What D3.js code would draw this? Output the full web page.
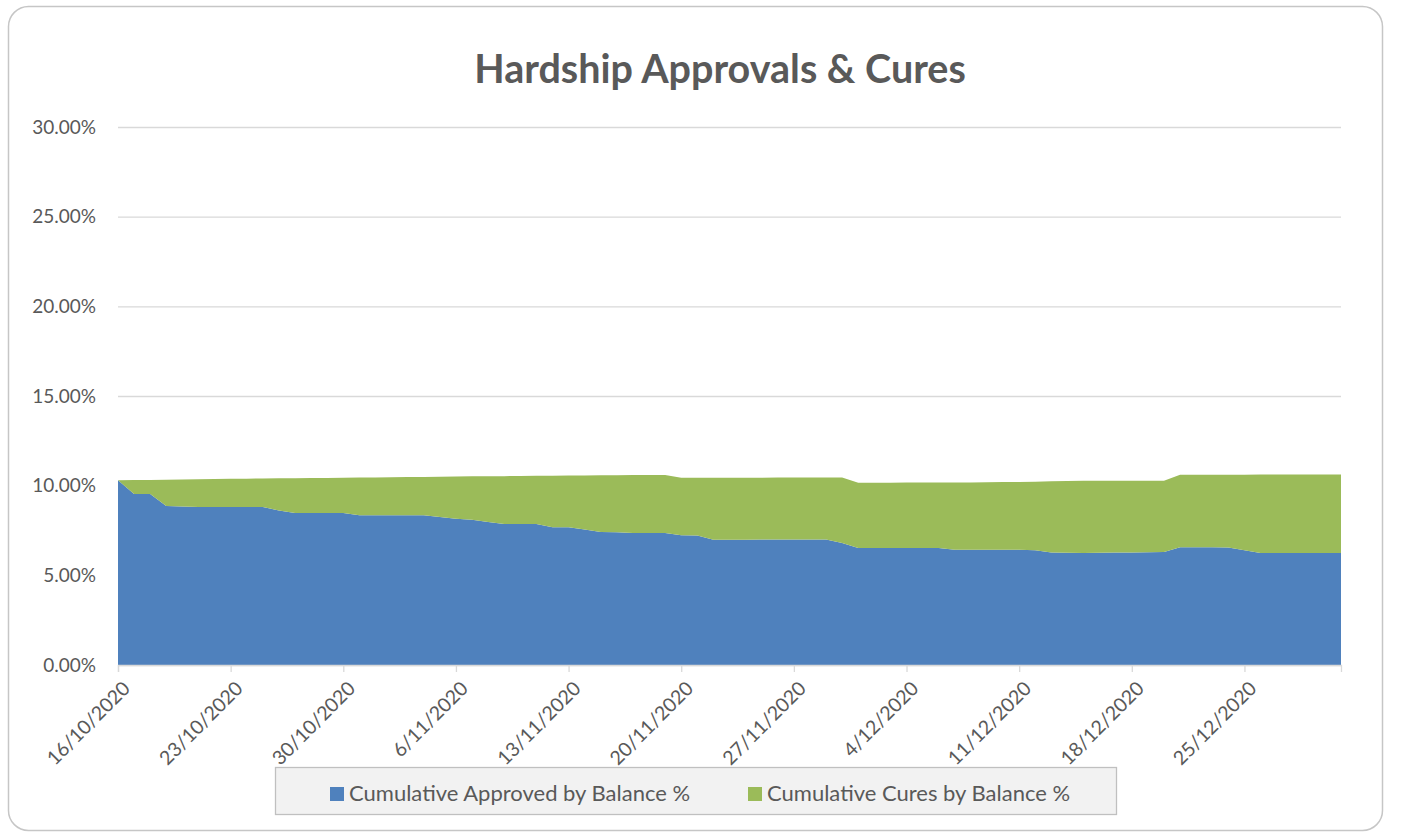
<!DOCTYPE html>
<html>
<head>
<meta charset="utf-8">
<script src="https://cdn.jsdelivr.net/npm/d3@7"></script>
<style>
  html, body { margin: 0; padding: 0; background: #ffffff; }
  svg { display: block; }
  text { font-family: Lato, "Open Sans", sans-serif; fill: #595959; }
</style>
</head>
<body>
<svg id="chart" width="1420" height="836"></svg>
<script>
// Daily series, 16/10/2020 – 31/12/2020, values in percent of balance
const startDate = new Date(2020, 9, 16);
const endDate = new Date(2021, 0, 1);
const dates = d3.timeDay.range(startDate, endDate);

const approved = [
  10.30, 9.54, 9.54, 8.87, 8.84, 8.81, 8.81, 8.81, 8.81, 8.81,
  8.62, 8.48, 8.48, 8.48, 8.48, 8.35, 8.35, 8.35, 8.35, 8.35,
  8.25, 8.16, 8.10, 7.98, 7.86, 7.86, 7.86, 7.68, 7.68, 7.55,
  7.42, 7.40, 7.36, 7.36, 7.36, 7.23, 7.22, 6.99, 6.99, 6.99,
  7.00, 7.00, 7.00, 7.00, 7.00, 6.80, 6.53, 6.53, 6.53, 6.53,
  6.53, 6.52, 6.43, 6.42, 6.42, 6.42, 6.42, 6.40, 6.28, 6.26,
  6.25, 6.26, 6.27, 6.28, 6.29, 6.30, 6.56, 6.56, 6.56, 6.55,
  6.40, 6.25, 6.25, 6.25, 6.25, 6.25, 6.25
];

const cures = [
  0.00, 0.77, 0.78, 1.46, 1.51, 1.55, 1.56, 1.57, 1.58, 1.59,
  1.79, 1.94, 1.95, 1.95, 1.96, 2.10, 2.11, 2.12, 2.13, 2.14,
  2.25, 2.35, 2.42, 2.54, 2.67, 2.68, 2.69, 2.87, 2.88, 3.02,
  3.16, 3.18, 3.23, 3.23, 3.23, 3.21, 3.22, 3.45, 3.45, 3.45,
  3.44, 3.45, 3.45, 3.45, 3.45, 3.65, 3.63, 3.63, 3.63, 3.64,
  3.64, 3.65, 3.75, 3.76, 3.77, 3.78, 3.79, 3.82, 3.96, 4.00,
  4.03, 4.02, 4.01, 4.00, 3.99, 3.98, 4.05, 4.05, 4.05, 4.06,
  4.21, 4.37, 4.37, 4.37, 4.37, 4.37, 4.37
];

const seriesNames = ["Cumulative Approved by Balance %", "Cumulative Cures by Balance %"];
const seriesColors = ["#4f81bd", "#9bbb59"];
const yTicks = [0, 5, 10, 15, 20, 25, 30];

const rows = dates.map((d, i) => ({ date: d, approved: approved[i], cures: cures[i] }));

const svg = d3.select("#chart");

// Chart frame
svg.append("rect")
  .attr("x", 8.5).attr("y", 6.5)
  .attr("width", 1374).attr("height", 824)
  .attr("rx", 20).attr("ry", 20)
  .attr("fill", "#ffffff")
  .attr("stroke", "#c6c6c6").attr("stroke-width", 1.5);

// Title
svg.append("text")
  .attr("x", 720).attr("y", 83)
  .attr("text-anchor", "middle")
  .style("font-size", "39.5px").style("font-weight", "bold")
  .text("Hardship Approvals & Cures");

const plot = { left: 118, right: 1341, top: 127, bottom: 665 };

const x = d3.scaleTime()
  .domain([startDate, dates[dates.length - 1]])
  .range([plot.left, plot.right]);

const y = d3.scaleLinear()
  .domain([0, 30])
  .range([plot.bottom, plot.top]);

// Gridlines and y labels
const yAxis = d3.axisLeft(y)
  .tickValues(yTicks)
  .tickSize(-(plot.right - plot.left))
  .tickPadding(22)
  .tickFormat(d => d.toFixed(2) + "%");

const gy = svg.append("g")
  .attr("transform", `translate(${plot.left},0)`)
  .call(yAxis);
gy.select(".domain").remove();
gy.selectAll(".tick line").attr("stroke", "#d9d9d9").attr("stroke-width", 1.3);
gy.selectAll(".tick text").style("font-size", "19px").attr("fill", "#595959");

// Stacked areas
const stack = d3.stack().keys(["approved", "cures"]);
const layers = stack(rows);

const area = d3.area()
  .x(d => x(d.data.date))
  .y0(d => y(d[0]))
  .y1(d => y(d[1]));

svg.append("g").selectAll("path")
  .data(layers)
  .join("path")
  .attr("d", area)
  .attr("fill", (d, i) => seriesColors[i]);

// X axis, weekly ticks
const xAxis = d3.axisBottom(x)
  .tickValues(d3.range(0, 11).map(k => d3.timeDay.offset(startDate, k * 7)))
  .tickSize(7)
  .tickFormat(d3.timeFormat("%-d/%-m/%Y"));

const gx = svg.append("g")
  .attr("transform", `translate(0,${plot.bottom})`)
  .call(xAxis);
gx.select(".domain").attr("stroke", "#d9d9d9").attr("stroke-width", 1.3);
gx.selectAll(".tick line").attr("stroke", "#d9d9d9").attr("stroke-width", 1.3);
gx.selectAll(".tick text")
  .style("font-size", "19.5px")
  .attr("fill", "#595959")
  .attr("text-anchor", "end")
  .attr("transform", "translate(8,20) rotate(-45)")
  .attr("x", 0).attr("y", 0).attr("dy", "0.35em");

// Legend
const legend = svg.append("g");
legend.append("rect")
  .attr("x", 275.5).attr("y", 767.5)
  .attr("width", 841).attr("height", 47)
  .attr("fill", "#f2f2f2")
  .attr("stroke", "#c0c0c0").attr("stroke-width", 1.3);

const legendX = [330, 748];
seriesNames.forEach((name, i) => {
  legend.append("rect")
    .attr("x", legendX[i]).attr("y", 787)
    .attr("width", 14).attr("height", 14)
    .attr("fill", seriesColors[i]);
  legend.append("text")
    .attr("x", legendX[i] + 19).attr("y", 801)
    .style("font-size", "22px")
    .text(name);
});
</script>
</body>
</html>
